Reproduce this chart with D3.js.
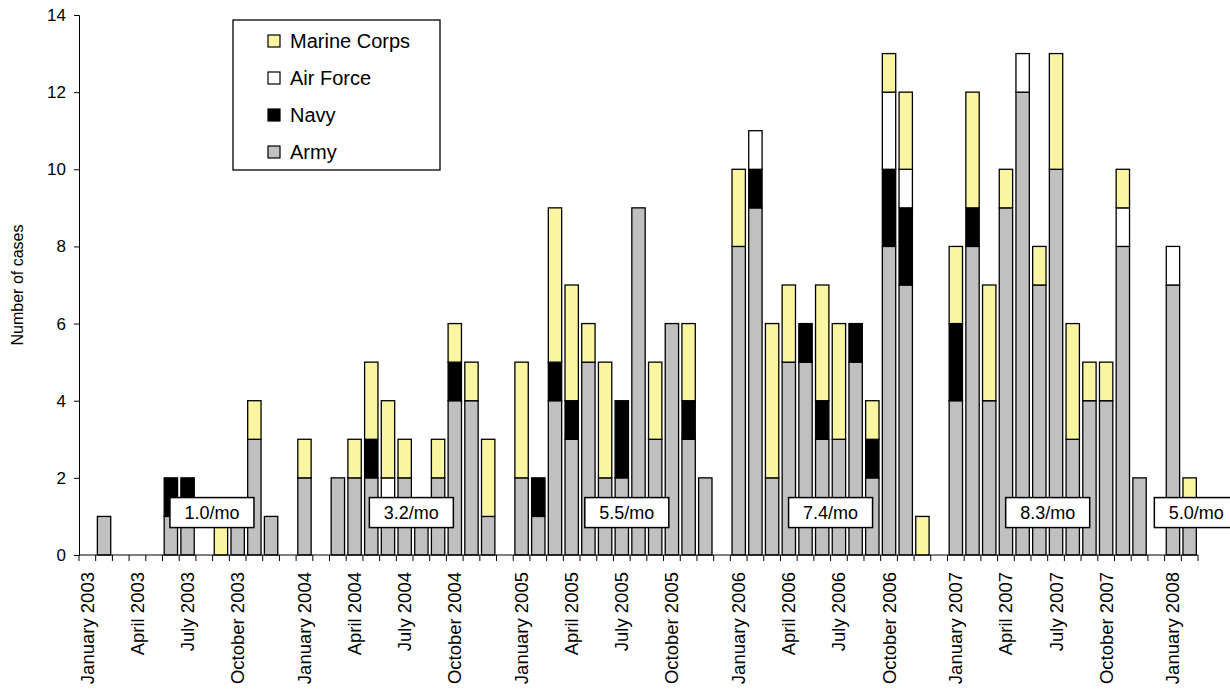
<!DOCTYPE html>
<html><head><meta charset="utf-8">
<script src="https://cdn.jsdelivr.net/npm/d3@7"></script>
<style>body{margin:0;background:#fff;font-family:"Liberation Sans",Arial,sans-serif}</style>
</head><body><svg id="c" width="1230" height="689"></svg>
<script>
const years = [2003, 2004, 2005, 2006, 2007, 2008];
const monthNames = ['January','February','March','April','May','June','July','August','September','October','November','December'];
// monthly counts, Jan 2003 .. Feb 2008
const army   = [0,1,0,0,0,1,1,0,0,1,3,1, 2,0,2,2,2,1,2,1,2,4,4,1, 2,1,4,3,5,2,2,9,3,6,3,2, 8,9,2,5,5,3,3,5,2,8,7,0, 4,8,4,9,12,7,10,3,4,4,8,2, 7,1];
const navy   = [0,0,0,0,0,1,1,0,0,0,0,0, 0,0,0,0,1,0,0,0,0,1,0,0, 0,1,1,1,0,0,2,0,0,0,1,0, 0,1,0,0,1,1,0,1,1,2,2,0, 2,1,0,0,0,0,0,0,0,0,0,0, 0,0];
const airForce = [0,0,0,0,0,0,0,0,0,0,0,0, 0,0,0,0,0,1,0,0,0,0,0,0, 0,0,0,0,0,0,0,0,0,0,0,0, 0,1,0,0,0,0,0,0,0,2,1,0, 0,0,0,0,1,0,0,0,0,0,1,0, 1,0];
const marines = [0,0,0,0,0,0,0,0,1,0,1,0, 1,0,0,1,2,2,1,0,1,1,1,2, 3,0,4,3,1,3,0,0,2,0,2,0, 2,0,4,2,0,3,3,0,1,1,2,1, 2,3,3,1,0,1,3,3,1,1,1,0, 0,1];
const rateLabels = ['1.0/mo','3.2/mo','5.5/mo','7.4/mo','8.3/mo','5.0/mo'];
const ratePos = [7.96, 19.9, 32.8, 45.0, 58.0, 66.9];
const yTicks = [0,2,4,6,8,10,12,14];
const seriesNames = ['Army','Navy','Air Force','Marine Corps'];
const colors = {'Army':'#c0c0c0','Navy':'#000000','Air Force':'#ffffff','Marine Corps':'#faf5a0'};

// categories: 12 months + one blank slot per year
const cats = [];
const rows = [];
let k = 0;
years.forEach(y => {
  const n = y === 2008 ? 2 : 12;
  for (let m = 0; m < n; m++) {
    const id = y + '-' + m;
    cats.push(id);
    rows.push({id, label: monthNames[m] + ' ' + y, show: m % 3 === 0,
      'Army': army[k], 'Navy': navy[k], 'Air Force': airForce[k], 'Marine Corps': marines[k]});
    k++;
  }
  if (y !== 2008) cats.push('gap' + y);
});

const svg = d3.select('#c');
const x = d3.scaleBand().domain(cats).range([79, 1198]).paddingInner(0.2).paddingOuter(0.1);
const y = d3.scaleLinear().domain([0, 14]).range([555, 15]);
const step = x.step();
const x0 = 79;

const stack = d3.stack().keys(seriesNames)(rows);
svg.append('g').selectAll('g').data(stack).join('g')
  .attr('fill', d => colors[d.key])
  .selectAll('rect').data(d => d.filter(p => p[1] > p[0])).join('rect')
  .attr('x', d => x(d.data.id)).attr('width', x.bandwidth())
  .attr('y', d => y(d[1])).attr('height', d => y(d[0]) - y(d[1]))
  .attr('stroke', '#000').attr('stroke-width', 1.3);

// y axis
const ya = svg.append('g').attr('transform', `translate(${x0},0)`)
  .call(d3.axisLeft(y).tickValues(yTicks).tickSize(5).tickPadding(8));
ya.selectAll('text').attr('font-size', 17).attr('font-family', '"Liberation Sans",Arial').attr('fill', '#000');
ya.selectAll('line,path').attr('stroke', '#000');

// x axis
svg.append('line').attr('x1', x0).attr('x2', 1198).attr('y1', 555).attr('y2', 555).attr('stroke', '#000');
svg.append('g').selectAll('line').data(d3.range(cats.length + 1)).join('line')
  .attr('x1', i => x0 + i * step).attr('x2', i => x0 + i * step)
  .attr('y1', 555).attr('y2', 561).attr('stroke', '#000');
svg.append('g').selectAll('text').data(rows.filter(r => r.show)).join('text')
  .attr('transform', d => `translate(${x(d.id) + x.bandwidth() / 2 + 6.5},572) rotate(-90)`)
  .attr('text-anchor', 'end').attr('font-size', 18.5).text(d => d.label);

svg.append('text').attr('transform', 'translate(23,285) rotate(-90)')
  .attr('text-anchor', 'middle').attr('font-size', 16).text('Number of cases');

// rate boxes
const rb = svg.append('g').selectAll('g').data(rateLabels).join('g')
  .attr('transform', (d, i) => `translate(${x0 + ratePos[i] * step},${y(1.1)})`);
rb.append('rect').attr('x', -42).attr('y', -15).attr('width', 84).attr('height', 30)
  .attr('fill', '#fff').attr('stroke', '#000').attr('stroke-width', 1.5);
rb.append('text').attr('text-anchor', 'middle').attr('dy', 6).attr('font-size', 18).text(d => d);

// legend
const lg = svg.append('g');
lg.append('rect').attr('x', 233).attr('y', 20).attr('width', 207).attr('height', 150)
  .attr('fill', '#fff').attr('stroke', '#000').attr('stroke-width', 1.3);
const legendOrder = seriesNames.slice().reverse();
const li = lg.selectAll('g.it').data(legendOrder).join('g')
  .attr('transform', (d, i) => `translate(268,${41 + i * 37})`);
li.append('rect').attr('x', 0).attr('y', -6).attr('width', 12).attr('height', 12)
  .attr('fill', d => colors[d]).attr('stroke', '#000').attr('stroke-width', 1.2);
li.append('text').attr('x', 22).attr('dy', 7).attr('font-size', 20).text(d => d);
</script></body></html>
